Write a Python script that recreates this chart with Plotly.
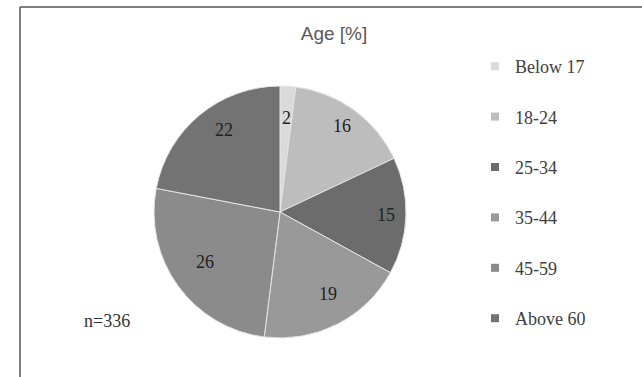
import math
import plotly.graph_objects as go

# Age distribution of respondents (percent)
age_groups = ["Below 17", "18-24", "25-34", "35-44", "45-59", "Above 60"]
shares = [2, 16, 15, 19, 26, 22]
slice_colors = ["#dadada", "#bdbdbd", "#6c6c6c", "#999999", "#8b8b8b", "#737373"]
sample_note = "n=336"
chart_title = "Age [%]"

W, H = 642, 377
CX, CY, R = 280, 212, 126  # pie centre and radius in pixels

fig = go.Figure()

fig.add_trace(go.Pie(
    labels=age_groups,
    values=shares,
    sort=False,
    direction="clockwise",
    rotation=0,
    marker=dict(colors=slice_colors, line=dict(color="#e4e4e4", width=1)),
    textinfo="none",
    showlegend=False,
    domain=dict(x=[(CX - R) / W, (CX + R) / W],
                y=[(H - CY - R) / H, (H - CY + R) / H]),
))

# Legend entries: one square marker per age group, each in its own group
for name, col in zip(age_groups, slice_colors):
    fig.add_trace(go.Scatter(
        x=[None], y=[None], mode="markers", name=name, legendgroup=name,
        marker=dict(symbol="square", size=8, color=col),
    ))

# Value labels placed near the outer edge of each slice
annotations = []
total = sum(shares)
cum = 0
for v in shares:
    mid = (cum + v / 2) / total * 2 * math.pi
    cum += v
    px = CX + 0.84 * R * math.sin(mid)
    py = CY - 0.84 * R * math.cos(mid)
    annotations.append(dict(
        x=px / W, y=1 - py / H, xref="paper", yref="paper",
        text=str(v), showarrow=False,
        font=dict(family="Liberation Serif", size=18, color="#222222"),
    ))

annotations.append(dict(
    x=82 / W, y=1 - 333 / H, xref="paper", yref="paper",
    text=sample_note, showarrow=False,
    font=dict(family="Liberation Serif", size=18, color="#333333"),
))

shapes = [
    dict(type="line", xref="paper", yref="paper",
         x0=20 / W, x1=1, y0=1 - 7 / H, y1=1 - 7 / H,
         line=dict(color="#555555", width=1.5)),
    dict(type="line", xref="paper", yref="paper",
         x0=20 / W, x1=20 / W, y0=0, y1=1 - 7 / H,
         line=dict(color="#555555", width=1.5)),
]

fig.update_layout(
    width=W, height=H,
    margin=dict(l=0, r=0, t=0, b=0, autoexpand=False),
    paper_bgcolor="white", plot_bgcolor="white",
    title=dict(text=chart_title, x=334 / W, y=1 - 33 / H,
               xanchor="center", yanchor="middle",
               font=dict(family="Liberation Sans", size=19, color="#595959")),
    xaxis=dict(visible=False), yaxis=dict(visible=False),
    legend=dict(
        x=475 / W, y=1 - 48 / H, xanchor="left", yanchor="top",
        font=dict(family="Liberation Serif", size=18, color="#404040"),
        tracegroupgap=24, bgcolor="rgba(0,0,0,0)",
    ),
    annotations=annotations,
    shapes=shapes,
)

fig.write_html("out.html")
